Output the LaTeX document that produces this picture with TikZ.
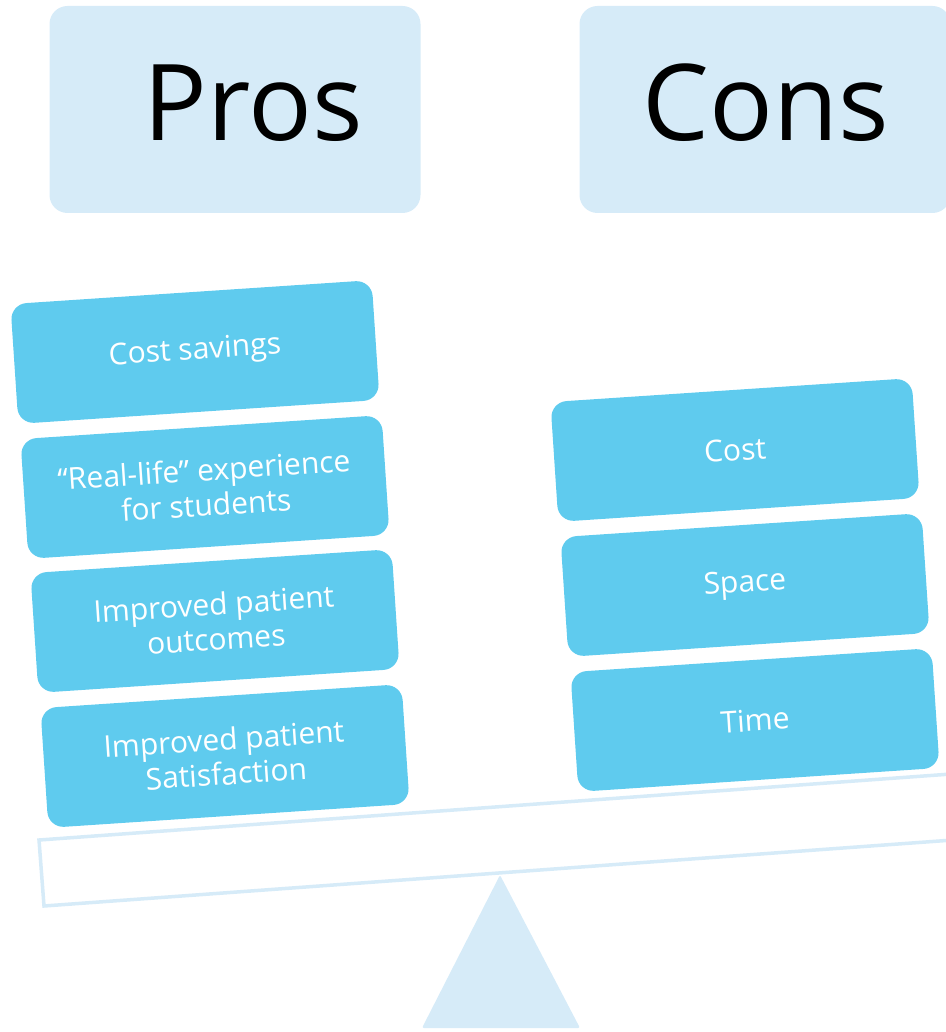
\documentclass[tikz,border=0pt]{standalone}
\usepackage{fontspec}
\setmainfont{Open Sans}
\definecolor{paleblue}{HTML}{D6EBF8}
\definecolor{itemblue}{HTML}{5FCBEE}
\begin{document}
\begin{tikzpicture}[x=1pt,y=-1pt]
            \useasboundingbox (0,0) rectangle (945,1032);
            % headers
            \begin{scope}[every node/.style={fill=paleblue,rounded corners=18pt,minimum width=371pt,minimum height=207pt}]
                \node (prosbox) at (235,109.5) {};
                \node (consbox) at (765,109.5) {};
            \end{scope}
            \begin{scope}[every node/.style={font=\fontsize{106}{110}\selectfont,inner sep=0pt}]
                \node (pros) at (253,103) {Pros};
                \node (cons) at (766,103) {Cons};
            \end{scope}
            % beam and fulcrum
            \draw[paleblue,line width=3.5pt,fill=white] (39,840) -- (965,773) -- (967,839) -- (44,906) -- cycle;
            \fill[paleblue,rounded corners=2pt] (500,875) -- (580,1028) -- (422,1028) -- cycle;
            % items
            \begin{scope}[every node/.style={fill=itemblue,rounded corners=16pt,minimum width=362pt,minimum height=120pt,
                    text=white,align=center,font=\fontsize{30}{35}\selectfont,rotate=3.8}]
                \node (savings) at (195,352) {Cost savings};
                \node (reallife) at (205,487) {“Real-life” experience\\for students};
                \node (outcomes) at (215,621) {Improved patient\\outcomes};
                \node (satisfaction) at (225,756) {Improved patient\\Satisfaction};
                \node (cost) at (735,450) {Cost};
                \node (space) at (745,585) {Space};
                \node (time) at (755,720) {Time};
            \end{scope}
        \end{tikzpicture}
\end{document}
